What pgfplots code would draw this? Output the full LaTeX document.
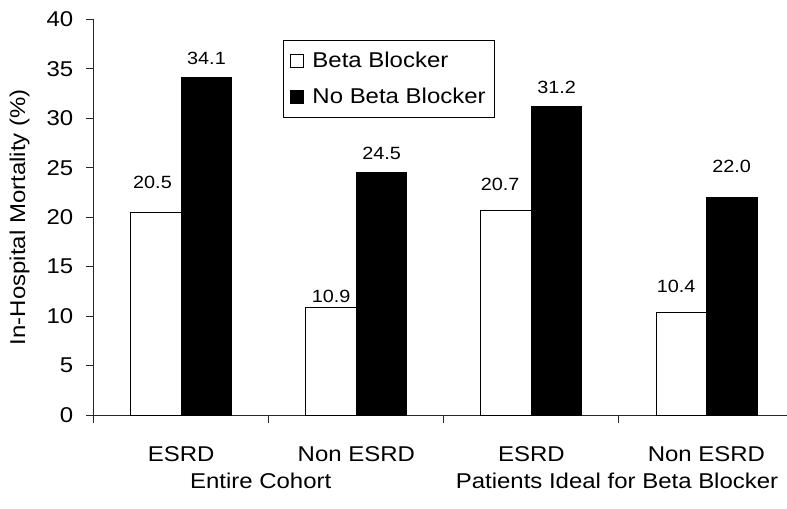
\documentclass[border=0pt]{standalone}
\usepackage{pgfplots}
\pgfplotsset{compat=1.18}
\usepackage{fontspec}
\setmainfont{Liberation Sans}[FakeStretch=1.12]
\newcommand\lblfont{\fontsize{21.4bp}{25bp}\selectfont}
\newcommand\valfont{\fontsize{17.7bp}{21bp}\selectfont}
\pgfplotsset{
  sqlegend/.style={legend image code/.code={%
    \draw[##1, line width=0.8bp] (0bp,-6.5bp) rectangle (13bp,6.5bp);
    \path[draw=none, fill=none] (0bp,0bp) (20bp,0bp);}},
}
\begin{document}
\begin{tikzpicture}
\useasboundingbox (0,0) rectangle (787bp,509bp);
\begin{axis}[
  at={(93.7bp,94bp)}, anchor=south west,
  scale only axis, width=693.3bp, height=395.7bp,
  xmin=-0.5, xmax=3.46, ymin=0, ymax=40,
  clip=false,
  axis lines*=left,
  axis line style={black!85, line width=0.9bp},
  ytick={0,5,...,40},
  xtick={0,1,2,3},
  xticklabels={ESRD, Non ESRD, ESRD, Non ESRD},
  tick align=outside, major tick length=8bp,
  tick style={line width=0.9bp, black!85},
  xtick style={draw=none},
  extra x ticks={-0.5,0.5,1.5,2.5},
  extra x tick labels={},
  extra x tick style={xtick style={draw=black!85}},
  /pgf/number format/assume math mode=true,
  tick label style={font=\lblfont},
  yticklabel style={xshift=-9bp},
  xticklabel style={yshift=-20bp},
  ylabel={In-Hospital Mortality (\%)},
  ylabel style={font=\lblfont, at={(axis description cs:-0.107,0.5)}, anchor=center},
  legend style={at={(0.2726,0.9477)}, anchor=north west, draw=black, line width=0.8bp,
    font=\lblfont, row sep=15bp, inner xsep=7bp, inner ysep=10bp},
  legend cell align=left,
]
% Patients on beta blockers
\addplot[ybar, bar width=50.5bp, bar shift=-25.25bp, fill=white, draw=black, line width=0.8bp, sqlegend]
  coordinates {(0,20.5) (1,10.9) (2,20.7) (3,10.4)};
% Patients without beta blockers
\addplot[ybar, bar width=50.5bp, bar shift=25.25bp, fill=black, draw=black, line width=0.8bp, sqlegend]
  coordinates {(0,34.1) (1,24.5) (2,31.2) (3,22.0)};
\legend{Beta Blocker, No Beta Blocker}

% value labels above the bars
\node[anchor=base, font=\valfont, xshift=-28.75bp, yshift=24bp] at (axis cs:0,20.5) {20.5};
\node[anchor=base, font=\valfont, xshift=25.25bp, yshift=13bp] at (axis cs:0,34.1) {34.1};
\node[anchor=base, font=\valfont, xshift=-25.25bp, yshift=5bp] at (axis cs:1,10.9) {10.9};
\node[anchor=base, font=\valfont, xshift=25.25bp, yshift=12.7bp] at (axis cs:1,24.5) {24.5};
\node[anchor=base, font=\valfont, xshift=-31.25bp, yshift=20bp] at (axis cs:2,20.7) {20.7};
\node[anchor=base, font=\valfont, xshift=25.25bp, yshift=13bp] at (axis cs:2,31.2) {31.2};
\node[anchor=base, font=\valfont, xshift=-30.25bp, yshift=20bp] at (axis cs:3,10.4) {10.4};
\node[anchor=base, font=\valfont, xshift=25.25bp, yshift=25bp] at (axis cs:3,22.0) {22.0};

% group captions under the categories
\node[anchor=base, font=\lblfont, yshift=-73bp] at (axis cs:0.454,0) {Entire Cohort};
\node[anchor=base, font=\lblfont, yshift=-73bp] at (axis cs:2.489,0) {Patients Ideal for Beta Blocker};
\end{axis}
\end{tikzpicture}
\end{document}
